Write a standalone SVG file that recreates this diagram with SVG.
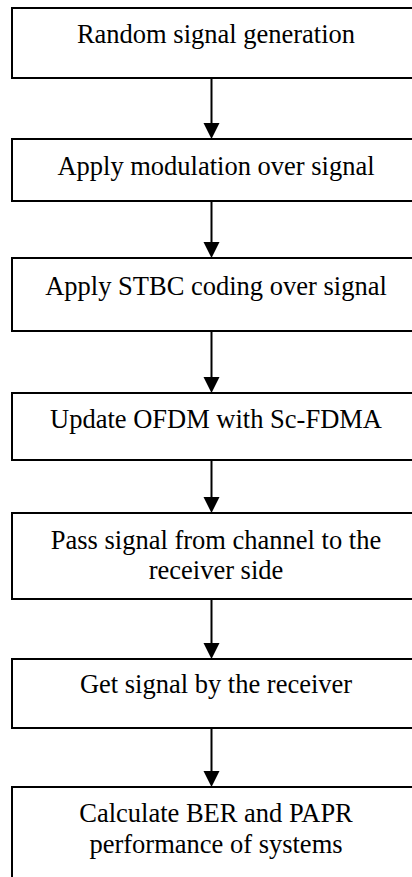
<svg xmlns="http://www.w3.org/2000/svg" width="412" height="877" viewBox="0 0 412 877">
<style>
.box{fill:#fff;stroke:#000;stroke-width:2}
.t{font-family:"Liberation Serif","Times New Roman",serif;font-size:26.5px;fill:#000;text-anchor:middle}
.c{stroke:#000;stroke-width:2;fill:none}
.h{fill:#000;stroke:none}
</style>
<rect width="412" height="877" fill="#fff"/>
<g id="n1"><rect class="box" x="12" y="8" width="420" height="70"/><text class="t" x="216" y="43">Random signal generation</text></g>
<g id="n2"><rect class="box" x="12" y="139" width="420" height="62"/><text class="t" x="216" y="175">Apply modulation over signal</text></g>
<g id="n3"><rect class="box" x="12" y="258" width="420" height="73"/><text class="t" x="216" y="295">Apply STBC coding over signal</text></g>
<g id="n4"><rect class="box" x="12" y="393" width="420" height="67"/><text class="t" x="216" y="428">Update OFDM with Sc-FDMA</text></g>
<g id="n5"><rect class="box" x="12" y="513" width="420" height="86"/><text class="t" x="216" y="549">Pass signal from channel to the</text><text class="t" x="216" y="579">receiver side</text></g>
<g id="n6"><rect class="box" x="12" y="659" width="420" height="69"/><text class="t" x="216" y="693">Get signal by the receiver</text></g>
<g id="n7"><rect class="box" x="12" y="787" width="420" height="110"/><text class="t" x="216" y="822">Calculate BER and PAPR</text><text class="t" x="216" y="853">performance of systems</text></g>
<g id="connectors">
<line class="c" x1="211.5" y1="79" x2="211.5" y2="124"/><polygon class="h" points="203.5,123 219.5,123 211.5,139"/>
<line class="c" x1="211.5" y1="202" x2="211.5" y2="243"/><polygon class="h" points="203.5,242 219.5,242 211.5,258"/>
<line class="c" x1="211.5" y1="332" x2="211.5" y2="378"/><polygon class="h" points="203.5,377 219.5,377 211.5,393"/>
<line class="c" x1="211.5" y1="461" x2="211.5" y2="498"/><polygon class="h" points="203.5,497 219.5,497 211.5,513"/>
<line class="c" x1="211.5" y1="600" x2="211.5" y2="644"/><polygon class="h" points="203.5,643 219.5,643 211.5,659"/>
<line class="c" x1="211.5" y1="729" x2="211.5" y2="772"/><polygon class="h" points="203.5,771 219.5,771 211.5,787"/>
</g>
</svg>
